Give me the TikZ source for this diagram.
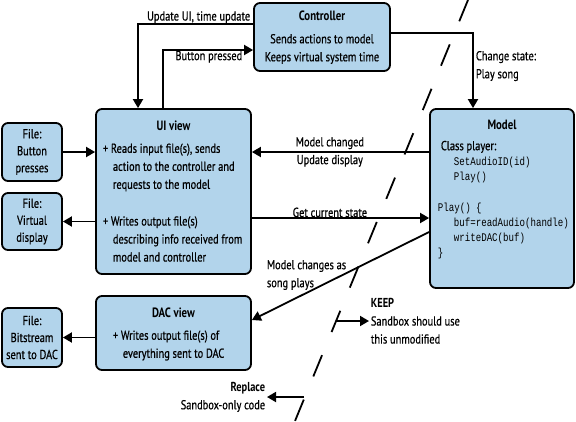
\documentclass[tikz,border=0pt]{standalone}
\usepackage{fontspec}
\setmainfont{PT Sans}[FakeStretch=0.8,UprightFeatures={FakeBold=0.6}]
\setmonofont{Liberation Mono}[Scale=0.9,FakeStretch=0.78]
\usetikzlibrary{arrows.meta,positioning}
\definecolor{boxblue}{RGB}{178,212,235}
\newcommand{\plusindent}{\hspace*{10pt}}

\begin{document}
\begin{tikzpicture}[x=1pt,y=-1pt,->,>={Triangle[length=9pt,width=10pt]},line width=1.8pt,
  box node/.style={draw,rounded corners=6pt,fill=boxblue,inner sep=0pt},
  file node/.style={box node,minimum width=60pt,align=center,font=\fontsize{13}{17}\selectfont},
  box title/.style={inner sep=0pt,font=\fontsize{13.5}{15}\selectfont\bfseries},
  box text/.style={inner sep=0pt,font=\fontsize{13}{18}\selectfont},
  edge text/.style={inner sep=2pt,font=\fontsize{13}{18}\selectfont}]

  \useasboundingbox (0,0) rectangle (576,421);

  % boxes
  \node[box node,minimum width=136pt,minimum height=68pt] (ctrl) at (322,37) {};
  \node[box node,minimum width=155pt,minimum height=165pt] (ui) at (173.5,191.5) {};
  \node[box node,minimum width=144pt,minimum height=179pt] (model) at (502,198.5) {};
  \node[box node,minimum width=155pt,minimum height=74pt] (dac) at (173.5,333) {};
  \node[file node,minimum height=58pt] (btnfile) at (32,152) {File:\\Button\\presses};
  \node[file node,minimum height=57pt] (dispfile) at (32,221.5) {File:\\Virtual\\display};
  \node[file node,minimum height=59pt] (dacfile) at (32,337.5) {File:\\Bitstream\\sent to DAC};

  % box contents
  \node[box title] (ctrltitle) at (322,16) {Controller};
  \node[box text,align=center] (ctrltext) at (322,49) {Sends actions to model\\Keeps virtual system time};
  \node[box title] (uititle) at (173.5,126) {UI view};
  \node[box text,align=left,anchor=west] (uiread) at (102,167.5)
    {+ Reads input file(s), sends\\\plusindent action to the controller and\\\plusindent requests to the model};
  \node[box text,align=left,anchor=west] (uiwrite) at (102,239)
    {+ Writes output file(s)\\\plusindent describing info received from\\\plusindent model and controller};
  \node[box title] (dactitle) at (173.5,313) {DAC view};
  \node[box text,align=left,anchor=west] (dactext) at (112,345.5)
    {+ Writes output file(s) of\\\plusindent everything sent to DAC};
  \node[box title] (modeltitle) at (502,125) {Model};
  \node[box text,align=left,anchor=north west,font=\fontsize{13}{15.3}\selectfont] (modeltext) at (437,140)
    {\hspace*{3pt}Class player:\\
     \texttt{\hspace*{16pt}SetAudioID(id)}\\
     \texttt{\hspace*{16pt}Play()}\\[15pt]
     \texttt{Play() \{}\\
     \texttt{\hspace*{16pt}buf=readAudio(handle)}\\
     \texttt{\hspace*{16pt}writeDAC(buf)}\\
     \texttt{\}}};

  % connectors
  \draw ([yshift=13pt]ctrl.west) -| ([xshift=-35.5pt]ui.north)
    node[edge text,pos=0,above left,yshift=-2pt] {Update UI, time update};
  \draw ([xshift=-10.5pt]ui.north) |- ([yshift=-13pt]ctrl.west)
    node[edge text,pos=1,below left,xshift=-8pt,yshift=2pt] {Button pressed};
  \draw ([yshift=4pt]ctrl.east) -| ([xshift=-29pt]model.north)
    node[edge text,pos=0.72,right,align=left] {Change state:\\Play song};
  \draw ([yshift=46.5pt]model.west) -- ([yshift=39.5pt]ui.east)
    node[edge text,pos=0.56,above] {Model changed}
    node[edge text,pos=0.56,below] {Update display};
  \draw ([yshift=-26.5pt]ui.east) -- ([yshift=-19.5pt]model.west)
    node[edge text,pos=0.44,above,yshift=-2pt] {Get current state};
  \draw ([yshift=-33.5pt]model.west) -- ([yshift=13pt]dac.east);
  \node[edge text,inner sep=0pt,align=left,anchor=west] (songtext) at (266,275)
    {Model changes as\\song plays};
  \draw (btnfile.east) -- (ui.west |- btnfile.east);
  \draw (ui.west |- dispfile.east) -- (dispfile.east);
  \draw (dac.west |- dacfile.east) -- (dacfile.east);

  % keep / replace boundary
  \coordinate (cuttop) at (468,0);
  \coordinate (cutbot) at (295,421);
  \draw[-,dash pattern=on 23pt off 25pt] (cuttop) -- (cutbot);
  \coordinate (keepstart) at (336,321);
  \coordinate (replstart) at (304,397);
  \node[edge text,inner sep=1pt,align=left,anchor=west] (keep) at (369,321)
    {\textbf{KEEP}\\Sandbox should use\\this unmodified};
  \node[edge text,inner sep=1pt,align=right,anchor=east] (repl) at (267,397)
    {\textbf{Replace}\\Sandbox-only code};
  \draw (keepstart) -- (keep.west);
  \draw (replstart) -- (repl.east);
\end{tikzpicture}
\end{document}
